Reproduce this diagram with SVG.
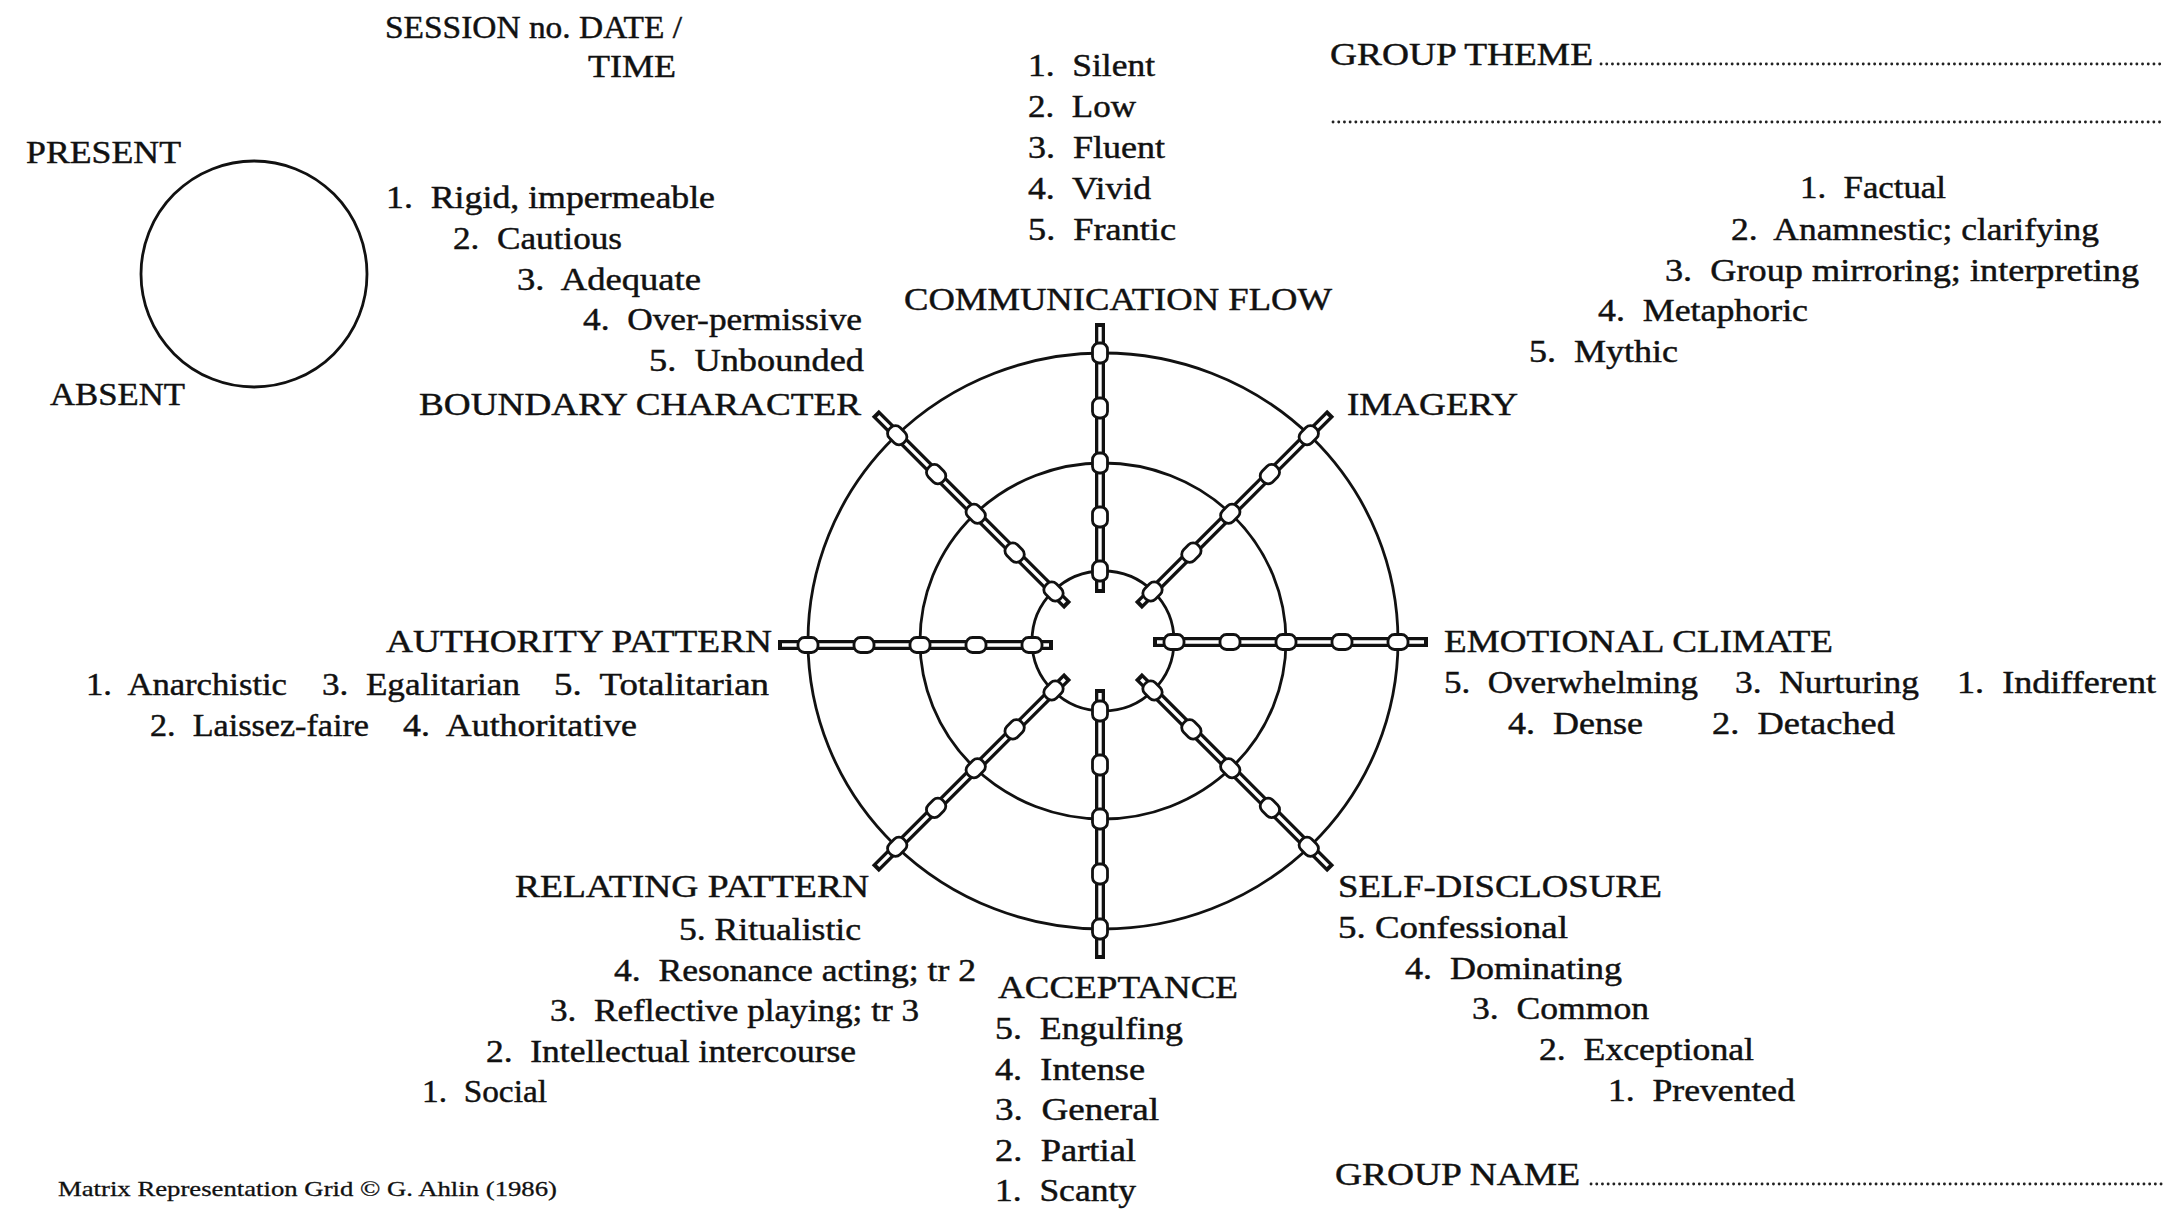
<svg xmlns="http://www.w3.org/2000/svg" xmlns:xlink="http://www.w3.org/1999/xlink" width="2166" height="1209" viewBox="0 0 2166 1209">
<style>
text{font-family:"Liberation Serif","Times New Roman",serif;fill:#111;stroke:#111;stroke-width:0.45;white-space:pre;}
.h{font-size:32px}
.i{font-size:31px}
.sm{font-size:22px;stroke-width:0.3}
.ring{fill:none;stroke:#111;stroke-width:2.8}
.rodo{stroke:#111;stroke-width:10;fill:none}
.rodi{stroke:#fff;stroke-width:3.4;fill:none}
.bead{fill:#fff;stroke:#111;stroke-width:2.8}
.dots{fill:none;stroke:#222;stroke-width:2.8;stroke-dasharray:0.1 5.6;stroke-linecap:round}
</style>
<defs>
<g id="spokeH">
<line x1="50" y1="0" x2="325" y2="0" class="rodo"/>
<line x1="54" y1="0" x2="321" y2="0" class="rodi"/>
<rect x="61" y="-7.5" width="20" height="15" rx="6.5" class="bead"/>
<rect x="117" y="-7.5" width="20" height="15" rx="6.5" class="bead"/>
<rect x="173" y="-7.5" width="20" height="15" rx="6.5" class="bead"/>
<rect x="229" y="-7.5" width="20" height="15" rx="6.5" class="bead"/>
<rect x="285" y="-7.5" width="20" height="15" rx="6.5" class="bead"/>
</g>
<g id="spokeV">
<line x1="48" y1="0" x2="318" y2="0" class="rodo"/>
<line x1="52" y1="0" x2="314" y2="0" class="rodi"/>
<rect x="60" y="-7.5" width="20" height="15" rx="6.5" class="bead"/>
<rect x="114" y="-7.5" width="20" height="15" rx="6.5" class="bead"/>
<rect x="168" y="-7.5" width="20" height="15" rx="6.5" class="bead"/>
<rect x="223" y="-7.5" width="20" height="15" rx="6.5" class="bead"/>
<rect x="278" y="-7.5" width="20" height="15" rx="6.5" class="bead"/>
</g>
<g id="spokeD">
<line x1="50" y1="0" x2="322" y2="0" class="rodo"/>
<line x1="54" y1="0" x2="318" y2="0" class="rodi"/>
<rect x="60" y="-7.5" width="20" height="15" rx="6.5" class="bead"/>
<rect x="115" y="-7.5" width="20" height="15" rx="6.5" class="bead"/>
<rect x="170" y="-7.5" width="20" height="15" rx="6.5" class="bead"/>
<rect x="226" y="-7.5" width="20" height="15" rx="6.5" class="bead"/>
<rect x="281" y="-7.5" width="20" height="15" rx="6.5" class="bead"/>
</g>
</defs>
<rect width="2166" height="1209" fill="#fff"/>

<g id="session">
<text class="h" x="385" y="38" textLength="297" lengthAdjust="spacingAndGlyphs">SESSION no. DATE /</text>
<text class="h" x="588" y="77" textLength="88" lengthAdjust="spacingAndGlyphs">TIME</text>
</g>

<g id="presence">
<text class="h" x="26" y="163" textLength="155" lengthAdjust="spacingAndGlyphs">PRESENT</text>
<circle cx="254" cy="274" r="113" class="ring"/>
<text class="h" x="50" y="405" textLength="135" lengthAdjust="spacingAndGlyphs">ABSENT</text>
</g>

<g id="theme">
<text class="h" x="1330" y="65" textLength="263" lengthAdjust="spacingAndGlyphs">GROUP THEME</text>
<line x1="1601" y1="64" x2="2162" y2="64" class="dots"/>
<line x1="1333" y1="122" x2="2162" y2="122" class="dots"/>
</g>

<g id="group-name">
<text class="h" x="1335" y="1185" textLength="245" lengthAdjust="spacingAndGlyphs">GROUP NAME</text>
<line x1="1591" y1="1184" x2="2164" y2="1184" class="dots"/>
</g>

<g id="wheel">
<ellipse cx="1103" cy="641" rx="71" ry="70" class="ring"/>
<ellipse cx="1103" cy="641" rx="183" ry="178" class="ring"/>
<ellipse cx="1103" cy="641" rx="295" ry="288" class="ring"/>
</g>

<g id="connectors">
<use xlink:href="#spokeV" href="#spokeV" transform="translate(1100 641) rotate(-90)"/>
<use xlink:href="#spokeD" href="#spokeD" transform="translate(1103 641) rotate(-45)"/>
<use xlink:href="#spokeH" href="#spokeH" transform="translate(1103 642)"/>
<use xlink:href="#spokeD" href="#spokeD" transform="translate(1103 641) rotate(45)"/>
<use xlink:href="#spokeV" href="#spokeV" transform="translate(1100 641) rotate(90)"/>
<use xlink:href="#spokeD" href="#spokeD" transform="translate(1103 641) rotate(135)"/>
<use xlink:href="#spokeH" href="#spokeH" transform="translate(1103 645) rotate(180)"/>
<use xlink:href="#spokeD" href="#spokeD" transform="translate(1103 641) rotate(-135)"/>
</g>

<g id="boundary-character">
<text class="i" x="386" y="208" textLength="329" lengthAdjust="spacingAndGlyphs">1.  Rigid, impermeable</text>
<text class="i" x="453" y="249" textLength="169" lengthAdjust="spacingAndGlyphs">2.  Cautious</text>
<text class="i" x="517" y="290" textLength="184" lengthAdjust="spacingAndGlyphs">3.  Adequate</text>
<text class="i" x="583" y="330" textLength="279" lengthAdjust="spacingAndGlyphs">4.  Over-permissive</text>
<text class="i" x="649" y="371" textLength="215" lengthAdjust="spacingAndGlyphs">5.  Unbounded</text>
<text class="h" x="419" y="415" textLength="442" lengthAdjust="spacingAndGlyphs">BOUNDARY CHARACTER</text>
</g>

<g id="communication-flow">
<text class="i" x="1028" y="76" textLength="127" lengthAdjust="spacingAndGlyphs">1.  Silent</text>
<text class="i" x="1028" y="117" textLength="108" lengthAdjust="spacingAndGlyphs">2.  Low</text>
<text class="i" x="1028" y="158" textLength="137" lengthAdjust="spacingAndGlyphs">3.  Fluent</text>
<text class="i" x="1028" y="199" textLength="123" lengthAdjust="spacingAndGlyphs">4.  Vivid</text>
<text class="i" x="1028" y="240" textLength="148" lengthAdjust="spacingAndGlyphs">5.  Frantic</text>
<text class="h" x="904" y="310" textLength="428" lengthAdjust="spacingAndGlyphs">COMMUNICATION FLOW</text>
</g>

<g id="imagery">
<text class="i" x="1800" y="198" textLength="146" lengthAdjust="spacingAndGlyphs">1.  Factual</text>
<text class="i" x="1731" y="240" textLength="368" lengthAdjust="spacingAndGlyphs">2.  Anamnestic; clarifying</text>
<text class="i" x="1665" y="281" textLength="474" lengthAdjust="spacingAndGlyphs">3.  Group mirroring; interpreting</text>
<text class="i" x="1598" y="321" textLength="210" lengthAdjust="spacingAndGlyphs">4.  Metaphoric</text>
<text class="i" x="1529" y="362" textLength="149" lengthAdjust="spacingAndGlyphs">5.  Mythic</text>
<text class="h" x="1347" y="415" textLength="171" lengthAdjust="spacingAndGlyphs">IMAGERY</text>
</g>

<g id="emotional-climate">
<text class="h" x="1444" y="652" textLength="389" lengthAdjust="spacingAndGlyphs">EMOTIONAL CLIMATE</text>
<text class="i" x="1444" y="693" textLength="254" lengthAdjust="spacingAndGlyphs">5.  Overwhelming</text>
<text class="i" x="1735" y="693" textLength="184" lengthAdjust="spacingAndGlyphs">3.  Nurturing</text>
<text class="i" x="1957" y="693" textLength="199" lengthAdjust="spacingAndGlyphs">1.  Indifferent</text>
<text class="i" x="1508" y="734" textLength="135" lengthAdjust="spacingAndGlyphs">4.  Dense</text>
<text class="i" x="1712" y="734" textLength="183" lengthAdjust="spacingAndGlyphs">2.  Detached</text>
</g>

<g id="authority-pattern">
<text class="h" x="386" y="652" textLength="386" lengthAdjust="spacingAndGlyphs">AUTHORITY PATTERN</text>
<text class="i" x="86" y="695" textLength="201" lengthAdjust="spacingAndGlyphs">1.  Anarchistic</text>
<text class="i" x="322" y="695" textLength="198" lengthAdjust="spacingAndGlyphs">3.  Egalitarian</text>
<text class="i" x="554" y="695" textLength="215" lengthAdjust="spacingAndGlyphs">5.  Totalitarian</text>
<text class="i" x="150" y="736" textLength="219" lengthAdjust="spacingAndGlyphs">2.  Laissez-faire</text>
<text class="i" x="403" y="736" textLength="234" lengthAdjust="spacingAndGlyphs">4.  Authoritative</text>
</g>

<g id="relating-pattern">
<text class="h" x="515" y="897" textLength="354" lengthAdjust="spacingAndGlyphs">RELATING PATTERN</text>
<text class="i" x="679" y="940" textLength="182" lengthAdjust="spacingAndGlyphs">5. Ritualistic</text>
<text class="i" x="614" y="981" textLength="362" lengthAdjust="spacingAndGlyphs">4.  Resonance acting; tr 2</text>
<text class="i" x="550" y="1021" textLength="369" lengthAdjust="spacingAndGlyphs">3.  Reflective playing; tr 3</text>
<text class="i" x="486" y="1062" textLength="370" lengthAdjust="spacingAndGlyphs">2.  Intellectual intercourse</text>
<text class="i" x="422" y="1102" textLength="125" lengthAdjust="spacingAndGlyphs">1.  Social</text>
</g>

<g id="self-disclosure">
<text class="h" x="1338" y="897" textLength="324" lengthAdjust="spacingAndGlyphs">SELF-DISCLOSURE</text>
<text class="i" x="1338" y="938" textLength="230" lengthAdjust="spacingAndGlyphs">5. Confessional</text>
<text class="i" x="1405" y="979" textLength="217" lengthAdjust="spacingAndGlyphs">4.  Dominating</text>
<text class="i" x="1472" y="1019" textLength="177" lengthAdjust="spacingAndGlyphs">3.  Common</text>
<text class="i" x="1539" y="1060" textLength="215" lengthAdjust="spacingAndGlyphs">2.  Exceptional</text>
<text class="i" x="1608" y="1101" textLength="187" lengthAdjust="spacingAndGlyphs">1.  Prevented</text>
</g>

<g id="acceptance">
<text class="h" x="998" y="998" textLength="240" lengthAdjust="spacingAndGlyphs">ACCEPTANCE</text>
<text class="i" x="995" y="1039" textLength="188" lengthAdjust="spacingAndGlyphs">5.  Engulfing</text>
<text class="i" x="995" y="1080" textLength="150" lengthAdjust="spacingAndGlyphs">4.  Intense</text>
<text class="i" x="995" y="1120" textLength="164" lengthAdjust="spacingAndGlyphs">3.  General</text>
<text class="i" x="995" y="1161" textLength="141" lengthAdjust="spacingAndGlyphs">2.  Partial</text>
<text class="i" x="995" y="1201" textLength="141" lengthAdjust="spacingAndGlyphs">1.  Scanty</text>
</g>

<g id="credit">
<text class="sm" x="58" y="1196" textLength="499" lengthAdjust="spacingAndGlyphs">Matrix Representation Grid © G. Ahlin (1986)</text>
</g>
</svg>
